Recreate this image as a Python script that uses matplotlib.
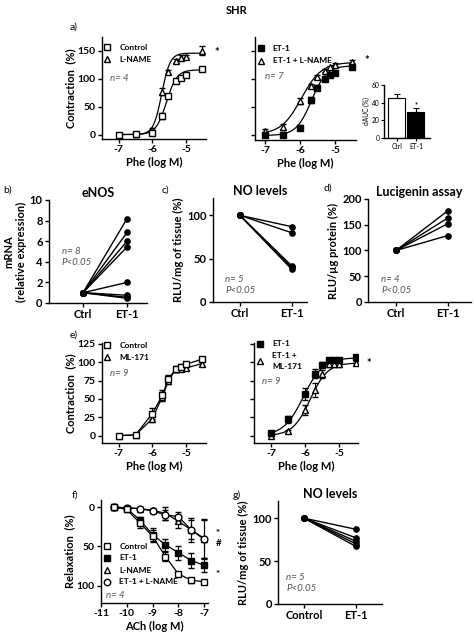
import numpy as np
import matplotlib.pyplot as plt

plt.rcParams['font.family'] = ['Lato', 'DejaVu Sans']
plt.rcParams['font.weight'] = 'bold'
plt.rcParams['axes.unicode_minus'] = False

# ---- data ----
phe = [-7, -6.5, -6, -5.7, -5.52, -5.3, -5.15, -5, -4.52]

# a) SHR contraction, left: Control vs L-NAME
a_ctrl = [0, 1, 2, 33, 69, 96, 102, 107, 117]
a_ctrl_err = [1, 1, 2, 5, 4, 3, 3, 3, 3]
a_lname = [0, 1, 8, 77, 112, 132, 138, 140, 150]
a_lname_err = [1, 1, 3, 6, 4, 4, 4, 3, 8]
# a) right: ET-1 vs ET-1 + L-NAME
a_et1 = [0, 1, 14, 63, 85, 101, 108, 111, 121]
a_et1_err = [2, 2, 5, 6, 4, 3, 3, 3, 3]
a_et1_lname = [8, 15, 61, 88, 104, 115, 121, 126, 131]
a_et1_lname_err = [4, 5, 5, 4, 3, 3, 3, 3, 3]
# fitted curves: (bottom, top, logEC50, hill)
a_fit_ctrl = (0, 116, -5.58, 2.8)
a_fit_lname = (0, 146, -5.72, 3.5)
a_fit_et1 = (0, 124, -5.68, 2.0)
a_fit_et1_lname = (2, 130, -5.97, 1.5)

# inset dAUC
dauc_groups = ['Ctrl', 'ET-1']
dauc = [45, 30]
dauc_err = [5, 4]

# b) eNOS mRNA
enos_groups = ['Ctrl', 'ET-1']
enos_ctrl = [1, 1, 1, 1, 1, 1, 1, 1]
enos_et1 = [8.2, 6.85, 6.0, 5.45, 2.0, 0.75, 0.55, 0.45]

# c) NO levels
no_groups = ['Ctrl', 'ET-1']
no_ctrl = [100, 100, 100, 100, 100]
no_et1 = [87, 80, 42, 40, 38]

# d) Lucigenin assay
luc_groups = ['Ctrl', 'ET-1']
luc_ctrl = [100, 100, 100, 100]
luc_et1 = [177, 163, 152, 129]

# e) left: Control vs ML-171
e_ctrl = [0, 1, 30, 55, 77, 91, 94, 97, 104]
e_ctrl_err = [1, 1, 8, 7, 5, 4, 3, 3, 3]
e_ml = [0, 1, 23, 53, 75, 90, 91, 92, 98]
e_ml_err = [1, 1, 5, 6, 5, 3, 3, 3, 3]
# e) right: ET-1 vs ET-1 + ML-171
e_et1 = [4, 22, 57, 84, 96, 103, 103, 103, 107]
e_et1_err = [3, 5, 8, 6, 4, 3, 3, 3, 3]
e_et1_ml = [0, 6, 35, 62, 84, 97, 97, 97, 99]
e_et1_ml_err = [1, 2, 7, 9, 5, 3, 3, 3, 3]
e_fit_et1 = (0, 106, -6.05, 1.5)
e_fit_et1_ml = (0, 99, -5.85, 1.7)

# f) ACh relaxation
ach = [-10.5, -10, -9.5, -9, -8.5, -8, -7.5, -7]
f_ctrl = [0, 3, 20, 37, 63, 85, 93, 95]
f_ctrl_err = [1, 2, 6, 8, 6, 3, 3, 2]
f_et1 = [0, 2, 16, 35, 48, 58, 68, 74]
f_et1_err = [1, 2, 4, 8, 8, 9, 9, 9]
f_lname = [0, 1, 2, 4, 8, 18, 29, 40]
f_lname_err = [1, 1, 2, 3, 8, 8, 15, 25]
f_et1_lname = [0, 1, 2, 5, 10, 12, 29, 41]
f_et1_lname_err = [1, 1, 2, 3, 6, 6, 12, 25]

# g) NO levels
g_groups = ['Control', 'ET-1']
g_ctrl = [100, 100, 100, 100, 100]
g_et1 = [87, 77, 73, 70, 67]

# ---- layout helpers ----
W, H = 474, 633
fig = plt.figure(figsize=(W / 100, H / 100), dpi=100)

TICK = 7.5
LAB = 8
TITLE = 9


def box(x0, y0, x1, y1):
    return fig.add_axes([x0 / W, 1 - y1 / H, (x1 - x0) / W, (y1 - y0) / H])


def style(ax, fs=TICK):
    for s in ['top', 'right']:
        ax.spines[s].set_visible(False)
    for s in ['left', 'bottom']:
        ax.spines[s].set_linewidth(1.0)
    ax.tick_params(direction='out', length=3, width=1, labelsize=fs, pad=1.5)
    for lab in ax.get_xticklabels() + ax.get_yticklabels():
        lab.set_fontweight('bold')


def sigmoid(ax, p, x0=-7.0, x1=-4.52):
    b, t, ec, h = p
    xx = np.linspace(x0, x1, 200)
    ax.plot(xx, b + (t - b) / (1 + 10 ** (h * (ec - xx))), color='black', lw=0.9, zorder=2)


def pts(ax, x, y, err, marker, filled, ms=4.9, line=False):
    fc = 'black' if filled else 'white'
    ax.errorbar(x, y, yerr=err, fmt=marker, ms=ms, mfc=fc, mec='black', mew=1.0,
                ecolor='black', elinewidth=0.8, capsize=2, capthick=0.8,
                ls='-' if line else 'none', color='black', lw=0.9, zorder=3)


def note(ax, x, y, lines):
    for i, s in enumerate(lines):
        ax.text(x, y - i * 0.11, s, transform=ax.transAxes, fontsize=7,
                style='italic', fontweight='normal', color='#555555', va='center')


def paired(ax, groups, c, e):
    for a, b in zip(c, e):
        ax.plot([0, 1], [a, b], color='black', lw=1.0, marker='o', ms=3.8)
    ax.set_xticks([0, 1])
    ax.set_xticklabels(groups)


def legend_rows(ax, x, rows, fs=6):
    # rows: (marker, filled, label, y of marker, text offsets)
    for m, filled, label, yy in rows:
        ax.plot([x], [yy], marker=m, ms=4.6, mfc='black' if filled else 'white',
                mec='black', mew=1.0, transform=ax.transAxes, clip_on=False)
        lines = label.split('\n')
        if len(lines) == 1:
            ax.text(x + 0.115, yy, label, transform=ax.transAxes, fontsize=fs,
                    fontweight='bold', va='center')
        else:
            ax.text(x + 0.115, yy, label, transform=ax.transAxes, fontsize=fs,
                    fontweight='bold', va='center', linespacing=1.6)


fig.text(0.5, 1 - 10 / H, 'SHR', ha='center', va='center', fontsize=8, fontweight='bold')
for lab, x, y in [('a)', 70, 27), ('b)', 3, 190), ('c)', 162, 190), ('d)', 323, 188),
                  ('e)', 70, 335), ('f)', 72, 495), ('g)', 233, 495)]:
    fig.text(x / W, 1 - y / H, lab, fontsize=7.5, fontweight='normal', va='center')

phe_ticks = [-7, -6, -5]

# a) left
ax = box(102, 37, 206, 139)
sigmoid(ax, a_fit_ctrl)
sigmoid(ax, a_fit_lname)
pts(ax, phe, a_lname, a_lname_err, '^', False)
pts(ax, phe, a_ctrl, a_ctrl_err, 's', False)
ax.set_xlim(-7.5, -4.4)
ax.set_ylim(-8, 175)
ax.set_yticks([0, 50, 100, 150])
ax.set_xticks(phe_ticks)
ax.set_ylabel('Contraction  (%)', fontsize=LAB, fontweight='bold', labelpad=1)
ax.set_xlabel('Phe (log M)', fontsize=LAB, fontweight='bold', labelpad=2)
style(ax)
legend_rows(ax, 0.05, [('s', False, 'Control', 0.9), ('^', False, 'L-NAME', 0.78)])
note(ax, 0.08, 0.59, ['n= 4'])
ax.text(1.08, 0.85, '*', transform=ax.transAxes, fontsize=8, va='center')

# a) right
ax = box(255, 37, 356, 140)
sigmoid(ax, a_fit_et1)
sigmoid(ax, a_fit_et1_lname)
pts(ax, phe, a_et1_lname, a_et1_lname_err, '^', False)
pts(ax, phe, a_et1, a_et1_err, 's', True)
ax.set_xlim(-7.3, -4.4)
ax.set_ylim(-8, 175)
ax.set_yticks([0, 50, 100, 150])
ax.set_yticklabels([])
ax.set_xticks(phe_ticks)
ax.set_xlabel('Phe (log M)', fontsize=LAB, fontweight='bold', labelpad=2)
style(ax)
legend_rows(ax, 0.06, [('s', True, 'ET-1', 0.89), ('^', False, 'ET-1 + L-NAME', 0.77)])
note(ax, 0.1, 0.62, ['n= 7'])
ax.text(1.08, 0.77, '*', transform=ax.transAxes, fontsize=8, va='center')

# inset dAUC
ax = box(384, 85, 430, 138)
ax.bar([0, 1], dauc, width=0.9, color=['white', 'black'], edgecolor='black', lw=0.8)
ax.errorbar([0, 1], dauc, yerr=[[0, 0], dauc_err], fmt='none', ecolor='black',
            elinewidth=0.8, capsize=2, capthick=0.8)
ax.text(1, dauc[1] + dauc_err[1] + 1, '*', ha='center', fontsize=5)
ax.set_xlim(-0.68, 1.74)
ax.set_ylim(0, 60)
ax.set_yticks([0, 20, 40, 60])
ax.set_xticks([0, 1])
ax.set_xticklabels(dauc_groups)
ax.set_ylabel('dAUC (%)', fontsize=4.8, fontweight='normal', labelpad=1)
style(ax, fs=4.8)
ax.tick_params(length=2, width=0.8)
for lab in ax.get_xticklabels() + ax.get_yticklabels():
    lab.set_fontweight('normal')

# b) eNOS
ax = box(49, 200, 147, 303)
paired(ax, enos_groups, enos_ctrl, enos_et1)
ax.set_xlim(-0.77, 1.45)
ax.set_ylim(0, 10)
ax.set_yticks([0, 2, 4, 6, 8, 10])
ax.set_ylabel('mRNA\n(relative expression)', fontsize=LAB, fontweight='bold', labelpad=2)
ax.set_title('eNOS', fontsize=TITLE, fontweight='bold', pad=2)
style(ax, fs=8)
note(ax, 0.13, 0.5, ['n= 8', 'P<0.05'])

# c) NO levels
ax = box(213, 198, 307, 302)
paired(ax, no_groups, no_ctrl, no_et1)
ax.set_xlim(-0.52, 1.3)
ax.set_ylim(0, 120)
ax.set_yticks([0, 50, 100])
ax.set_ylabel('RLU/mg of tissue (%)', fontsize=LAB, fontweight='bold', labelpad=2)
ax.set_title('NO levels', fontsize=TITLE, fontweight='bold', pad=2)
style(ax, fs=8)
note(ax, 0.13, 0.22, ['n= 5', 'P<0.05'])

# d) Lucigenin
ax = box(368, 199, 471, 302)
paired(ax, luc_groups, luc_ctrl, luc_et1)
ax.set_xlim(-0.54, 1.45)
ax.set_ylim(0, 200)
ax.set_yticks([0, 50, 100, 150, 200])
ax.set_ylabel('RLU/µg protein (%)', fontsize=LAB, fontweight='bold', labelpad=2)
ax.set_title('Lucigenin assay', fontsize=TITLE, fontweight='bold', pad=2)
style(ax, fs=8)
note(ax, 0.13, 0.22, ['n= 4', 'P<0.05'])

# e) left
ax = box(102, 343, 206, 443)
pts(ax, phe, e_ml, e_ml_err, '^', False, line=True)
pts(ax, phe, e_ctrl, e_ctrl_err, 's', False, line=True)
ax.set_xlim(-7.5, -4.4)
ax.set_ylim(-10, 126)
ax.set_yticks([0, 25, 50, 75, 100, 125])
ax.set_xticks(phe_ticks)
ax.set_ylabel('Contraction  (%)', fontsize=LAB, fontweight='bold', labelpad=1)
ax.set_xlabel('Phe (log M)', fontsize=LAB, fontweight='bold', labelpad=2)
style(ax)
legend_rows(ax, 0.05, [('s', False, 'Control', 0.98), ('^', False, 'ML-171', 0.86)])
note(ax, 0.08, 0.7, ['n= 9'])

# e) right
ax = box(254, 343, 358, 443)
sigmoid(ax, e_fit_et1)
sigmoid(ax, e_fit_et1_ml)
pts(ax, phe, e_et1_ml, e_et1_ml_err, '^', False)
pts(ax, phe, e_et1, e_et1_err, 's', True)
ax.set_xlim(-7.5, -4.45)
ax.set_ylim(-10, 126)
ax.set_yticks([0, 25, 50, 75, 100, 125])
ax.set_yticklabels([])
ax.set_xticks(phe_ticks)
ax.set_xlabel('Phe (log M)', fontsize=LAB, fontweight='bold', labelpad=2)
style(ax)
legend_rows(ax, 0.06, [('s', True, 'ET-1', 0.99), ('^', False, 'ET-1 +\nML-171', 0.82)])
note(ax, 0.075, 0.62, ['n= 9'])
ax.text(1.08, 0.8, '*', transform=ax.transAxes, fontsize=8, va='center')

# f) ACh relaxation
ax = box(101, 500, 208, 603)
pts(ax, ach, f_lname, f_lname_err, '^', False, line=True)
pts(ax, ach, f_et1_lname, f_et1_lname_err, 'o', False, line=True)
pts(ax, ach, f_et1, f_et1_err, 's', True, line=True)
pts(ax, ach, f_ctrl, f_ctrl_err, 's', False, line=True)
ax.set_xlim(-11, -6.85)
ax.set_ylim(122, -9)
ax.set_yticks([0, 50, 100])
ax.set_xticks([-11, -10, -9, -8, -7])
ax.set_ylabel('Relaxation  (%)', fontsize=LAB, fontweight='bold', labelpad=1)
ax.set_xlabel('ACh (log M)', fontsize=LAB, fontweight='bold', labelpad=2)
style(ax)
legend_rows(ax, 0.056, [('s', False, 'Control', 0.553), ('s', True, 'ET-1', 0.437),
                        ('^', False, 'L-NAME', 0.32), ('o', False, 'ET-1 + L-NAME', 0.204)])
note(ax, 0.05, 0.07, ['n= 4'])
for s, yy in [('*', 0.67), ('#', 0.58), ('*', 0.28)]:
    ax.text(1.07, yy, s, transform=ax.transAxes, fontsize=7, va='center')

# g) NO levels
ax = box(278, 501, 382, 604)
paired(ax, g_groups, g_ctrl, g_et1)
ax.set_xlim(-0.5, 1.5)
ax.set_ylim(0, 120)
ax.set_yticks([0, 50, 100])
ax.set_ylabel('RLU/mg of tissue (%)', fontsize=LAB, fontweight='bold', labelpad=2)
ax.set_title('NO levels', fontsize=TITLE, fontweight='bold', pad=2)
style(ax, fs=8)
note(ax, 0.08, 0.26, ['n= 5', 'P<0.05'])

fig.savefig('out.png', dpi=100)
